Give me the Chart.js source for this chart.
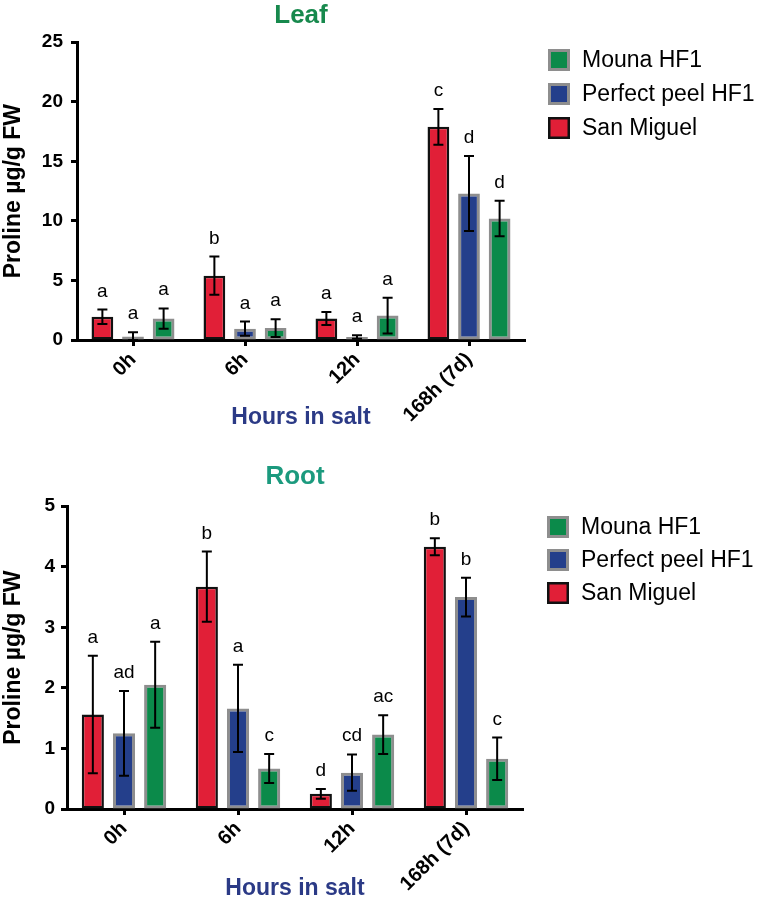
<!DOCTYPE html>
<html>
<head>
<meta charset="utf-8">
<title>Proline in leaf and root</title>
<script src="https://cdn.jsdelivr.net/npm/chart.js@4.4.1/dist/chart.umd.min.js"></script>
<style>
    body { margin: 0; background: #fff; }
    .panel { position: absolute; left: 0; width: 760px; }
    #leafPanel { top: 0; height: 440px; }
    #rootPanel { top: 440px; height: 462px; }
</style>
</head>
<body>
<div class="panel" id="leafPanel"><canvas id="leafChart" width="760" height="440"></canvas></div>
<div class="panel" id="rootPanel"><canvas id="rootChart" width="760" height="462"></canvas></div>
<script>
const timePoints = ['0h', '6h', '12h', '168h (7d)'];
const cultivars = ['San Miguel', 'Perfect peel HF1', 'Mouna HF1'];

// leaf proline, mean and error (ug/g FW)
const leafSanMiguel = [1.95, 5.4, 1.8, 17.9];
const leafSanMiguelErr = [0.6, 1.6, 0.55, 1.5];
const leafPerfectPeel = [0.3, 0.95, 0.25, 12.3];
const leafPerfectPeelErr = [0.35, 0.6, 0.15, 3.15];
const leafMouna = [1.8, 1.0, 2.05, 10.2];
const leafMounaErr = [0.85, 0.75, 1.5, 1.5];
const leafSanMiguelLetters = ['a', 'b', 'a', 'c'];
const leafPerfectPeelLetters = ['a', 'a', 'a', 'd'];
const leafMounaLetters = ['a', 'a', 'a', 'd'];

// root proline
const rootSanMiguel = [1.56, 3.67, 0.25, 4.33];
const rootSanMiguelErr = [0.97, 0.58, 0.08, 0.14];
const rootPerfectPeel = [1.25, 1.66, 0.6, 3.5];
const rootPerfectPeelErr = [0.7, 0.72, 0.3, 0.32];
const rootMouna = [2.05, 0.67, 1.23, 0.83];
const rootMounaErr = [0.71, 0.24, 0.32, 0.35];
const rootSanMiguelLetters = ['a', 'b', 'd', 'b'];
const rootPerfectPeelLetters = ['ad', 'a', 'cd', 'b'];
const rootMounaLetters = ['a', 'c', 'ac', 'c'];

const leafTicks = [0, 5, 10, 15, 20, 25];
const rootTicks = [0, 1, 2, 3, 4, 5];

const FONT = '"Liberation Sans", Arial, Helvetica, sans-serif';
Chart.defaults.font.family = FONT;
Chart.defaults.color = '#000';

const RED = '#e11f37';
const BLUE = '#243f8b';
const GREEN = '#0b8a4a';
const GREY = '#8e8e8e';

// error bars + significance letters on top of each bar
const errorBarsPlugin = {
    id: 'errorBars',
    afterDatasetsDraw(chart) {
        const ctx = chart.ctx;
        const yScale = chart.scales.y;
        chart.data.datasets.forEach((ds, di) => {
            const meta = chart.getDatasetMeta(di);
            meta.data.forEach((bar, i) => {
                const v = ds.data[i];
                const e = ds.errors[i];
                const yTop = yScale.getPixelForValue(v + e);
                const yBot = yScale.getPixelForValue(Math.max(0, v - e));
                ctx.save();
                ctx.strokeStyle = '#000';
                ctx.lineWidth = 2;
                ctx.beginPath();
                ctx.moveTo(bar.x, yTop);
                ctx.lineTo(bar.x, yBot);
                ctx.moveTo(bar.x - 5, yTop);
                ctx.lineTo(bar.x + 5, yTop);
                ctx.moveTo(bar.x - 5, yBot);
                ctx.lineTo(bar.x + 5, yBot);
                ctx.stroke();
                ctx.fillStyle = '#000';
                ctx.font = '19px ' + FONT;
                ctx.textAlign = 'center';
                ctx.textBaseline = 'alphabetic';
                ctx.fillText(ds.letters[i], bar.x, yTop - 13);
                ctx.restore();
            });
        });
    }
};

// legend on the right, listed in reverse dataset order like the original
const sideLegendPlugin = {
    id: 'sideLegend',
    afterDraw(chart, args, opts) {
        const ctx = chart.ctx;
        const items = chart.data.datasets.slice().reverse();
        items.forEach((ds, k) => {
            const cy = opts.top + k * opts.gap;
            const s = 22;
            const bw = ds.borderWidth;
            ctx.save();
            ctx.fillStyle = ds.backgroundColor;
            ctx.fillRect(opts.left, cy - s / 2, s, s);
            ctx.strokeStyle = ds.borderColor;
            ctx.lineWidth = bw;
            ctx.strokeRect(opts.left + bw / 2, cy - s / 2 + bw / 2, s - bw, s - bw);
            ctx.fillStyle = '#000';
            ctx.font = '23px ' + FONT;
            ctx.textAlign = 'left';
            ctx.textBaseline = 'middle';
            ctx.fillText(ds.label, opts.left + 34, cy + 1);
            ctx.restore();
        });
    }
};

function makeDatasets(values, errors, letters) {
    const fills = [RED, BLUE, GREEN];
    const borders = ['#111', GREY, GREY];
    const widths = [2.5, 3, 3];
    return cultivars.map((name, k) => ({
        label: name,
        data: values[k],
        errors: errors[k],
        letters: letters[k],
        backgroundColor: fills[k],
        borderColor: borders[k],
        borderWidth: widths[k],
        borderSkipped: false,
        categoryPercentage: 0.82,
        barPercentage: 0.71
    }));
}

function makeChart(canvas, cfg) {
    return new Chart(canvas, {
        type: 'bar',
        data: {
            labels: timePoints,
            datasets: makeDatasets(cfg.values, cfg.errors, cfg.letters)
        },
        plugins: [errorBarsPlugin, sideLegendPlugin],
        options: {
            responsive: false,
            animation: false,
            layout: { padding: { left: 0, top: 0, bottom: 0, right: cfg.rightPad } },
            plugins: {
                legend: { display: false },
                tooltip: { enabled: false },
                title: {
                    display: true,
                    text: cfg.title,
                    color: cfg.titleColor,
                    fullSize: false,
                    font: { size: 26, weight: 'bold' },
                    padding: cfg.titlePadding
                },
                sideLegend: cfg.legend
            },
            scales: {
                x: {
                    offset: true,
                    grid: {
                        offset: false,
                        drawOnChartArea: false,
                        drawTicks: true,
                        tickLength: 6,
                        tickWidth: 3,
                        tickColor: '#000'
                    },
                    border: { display: true, color: '#000', width: 3 },
                    ticks: {
                        color: '#000',
                        font: { size: 20, weight: 'bold' },
                        minRotation: 45,
                        maxRotation: 45,
                        padding: 2
                    },
                    title: {
                        display: true,
                        text: 'Hours in salt',
                        color: '#2b3a86',
                        font: { size: 23, weight: 'bold' },
                        padding: { top: 0, bottom: cfg.xTitlePad }
                    },
                    afterFit(scale) { scale.height = cfg.xHeight; }
                },
                y: {
                    min: cfg.ticks[0],
                    max: cfg.ticks[cfg.ticks.length - 1],
                    afterBuildTicks(scale) {
                        scale.ticks = cfg.ticks.map(v => ({ value: v }));
                    },
                    grid: {
                        drawOnChartArea: false,
                        drawTicks: true,
                        tickLength: 6,
                        tickWidth: 3,
                        tickColor: '#000'
                    },
                    border: { display: true, color: '#000', width: 3 },
                    ticks: {
                        color: '#000',
                        font: { size: 19, weight: 'bold' },
                        padding: cfg.yTickPad
                    },
                    title: {
                        display: true,
                        text: 'Proline µg/g FW',
                        color: '#000',
                        font: { size: 23, weight: 'bold' },
                        padding: 0
                    },
                    afterFit(scale) { scale.width = cfg.yWidth; }
                }
            }
        }
    });
}

document.addEventListener('DOMContentLoaded', function () {
    makeChart(document.getElementById('leafChart'), {
        title: 'Leaf',
        titleColor: '#17894d',
        titlePadding: { top: 0, bottom: 11 },
        values: [leafSanMiguel, leafPerfectPeel, leafMouna],
        errors: [leafSanMiguelErr, leafPerfectPeelErr, leafMounaErr],
        letters: [leafSanMiguelLetters, leafPerfectPeelLetters, leafMounaLetters],
        ticks: leafTicks,
        rightPad: 235,
        yWidth: 77,
        yTickPad: 8,
        xHeight: 100,
        xTitlePad: 9,
        legend: { left: 548, top: 60, gap: 34 }
    });

    makeChart(document.getElementById('rootChart'), {
        title: 'Root',
        titleColor: '#1b9a7e',
        titlePadding: { top: 21, bottom: 14 },
        values: [rootSanMiguel, rootPerfectPeel, rootMouna],
        errors: [rootSanMiguelErr, rootPerfectPeelErr, rootMounaErr],
        letters: [rootSanMiguelLetters, rootPerfectPeelLetters, rootMounaLetters],
        ticks: rootTicks,
        rightPad: 237,
        yWidth: 67,
        yTickPad: 6,
        xHeight: 93,
        xTitlePad: 0,
        legend: { left: 547, top: 87, gap: 33 }
    });
});
</script>
</body>
</html>
